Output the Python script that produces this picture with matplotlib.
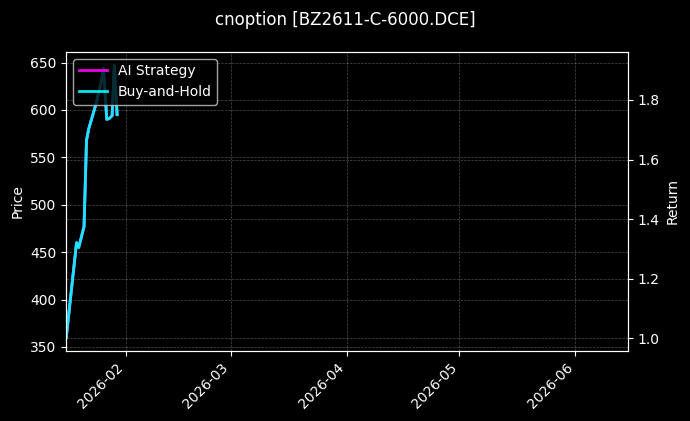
import numpy as np
import pandas as pd
import matplotlib
matplotlib.use('Agg')
import matplotlib.pyplot as plt
import matplotlib.dates as mdates

plt.style.use('dark_background')

symbol = 'BZ2611-C-6000.DCE'

# readings
times = pd.to_datetime([
    '2026-01-16 00:00', '2026-01-18 18:00', '2026-01-19 08:00', '2026-01-20 18:00',
    '2026-01-21 10:00', '2026-01-22 00:00', '2026-01-22 18:00', '2026-01-24 00:00',
    '2026-01-25 06:00', '2026-01-25 22:00', '2026-01-26 20:00', '2026-01-27 12:00',
    '2026-01-28 06:00', '2026-01-28 20:00', '2026-01-29 14:00'])
price = [360, 460, 455, 477, 568, 580, 590, 607, 628, 644, 590, 591, 594, 647, 595]
ret_bh = [1.003, 1.321, 1.305, 1.375, 1.665, 1.703, 1.735, 1.789, 1.855, 1.906,
          1.735, 1.738, 1.747, 1.916, 1.751]
ret_ai = ret_bh[:]

fig, ax1 = plt.subplots(figsize=(6.9, 4.21), dpi=100)
fig.patch.set_facecolor('black')
ax1.set_facecolor('black')

ax1.plot(times, price, color='cyan', alpha=0.9, linewidth=2)
ax1.set_ylabel('Price')
ax1.grid(True, linestyle='--', linewidth=0.5, alpha=0.3)

ax2 = ax1.twinx()
ax2.plot(times, ret_ai, color='magenta', alpha=0.9, linewidth=2, label='AI Strategy')
ax2.plot(times, ret_bh, color='cyan', alpha=0.9, linewidth=2, label='Buy-and-Hold')
ax2.set_ylabel('Return')
ax2.grid(True, linestyle='--', linewidth=0.5, alpha=0.3)
ax2.set_yticks([1.0, 1.2, 1.4, 1.6, 1.8])

ax1.set_xlim(pd.Timestamp('2026-01-16'), pd.Timestamp('2026-06-15'))
ax1.xaxis.set_major_locator(mdates.MonthLocator())
ax1.xaxis.set_major_formatter(mdates.DateFormatter('%Y-%m'))
plt.setp(ax1.get_xticklabels(), rotation=45, ha='right')

ax2.legend(loc='upper left')
fig.suptitle('cnoption [' + symbol + ']', fontsize=12, y=0.975)

fig.subplots_adjust(left=0.096, right=0.910, bottom=0.166, top=0.877)
fig.savefig('out.png', dpi=100, facecolor='black')
